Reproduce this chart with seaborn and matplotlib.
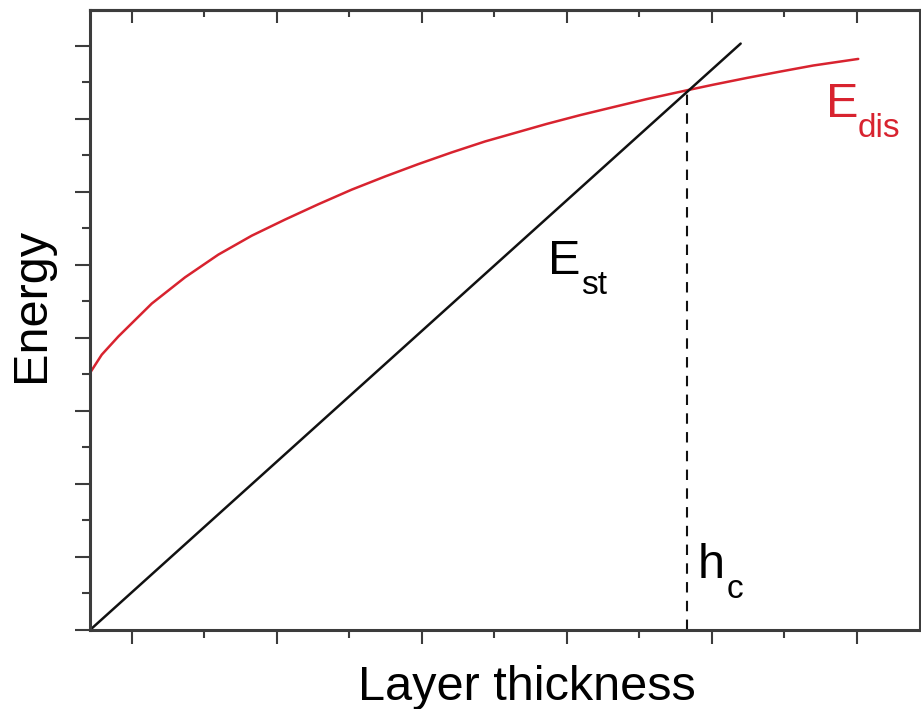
import matplotlib
matplotlib.use("Agg")
import matplotlib.pyplot as plt
from matplotlib.ticker import MultipleLocator, NullFormatter
import pandas as pd
import seaborn as sns

# --- DATA (one major tick = 1 unit) ---
edis_x = [0.712, 0.793, 0.908, 1.138, 1.368, 1.597, 1.828, 2.057, 2.287,
          2.517, 2.747, 2.977, 3.207, 3.437, 3.632, 3.862, 4.092, 4.321,
          4.552, 4.828, 5.011, 5.241, 5.471, 5.701, 6.011]
edis_y = [3.52, 3.77, 4.02, 4.47, 4.83, 5.14, 5.40, 5.62, 5.83,
          6.03, 6.21, 6.38, 6.54, 6.69, 6.80, 6.93, 7.05, 7.16,
          7.27, 7.39, 7.467, 7.559, 7.646, 7.73, 7.82]
est_x = [0.712, 5.20]
est_y = [0.0, 8.03]
hc_x = [4.83, 4.83]
hc_y = [0.0, 7.38]

sns.set_style("ticks")
plt.rcParams['font.family'] = ['Liberation Sans', 'DejaVu Sans']
plt.rcParams['text.color'] = 'black'
plt.rcParams['axes.labelcolor'] = 'black'

RED = '#d8232f'
AX = '#3c3c3c'

fig = plt.figure(figsize=(9.21, 7.09), dpi=100)
ax = fig.add_axes([90 / 921, 1 - 630 / 709, 830 / 921, 620 / 709])

edis = pd.DataFrame({'x': edis_x, 'y': edis_y})
est = pd.DataFrame({'x': est_x, 'y': est_y})
sns.lineplot(data=edis, x='x', y='y', color=RED, lw=1.8, ax=ax)
sns.lineplot(data=est, x='x', y='y', color='#111111', lw=1.8, ax=ax)
ax.plot(hc_x, hc_y, color='#111111', lw=1.5, dashes=(5, 4))

ax.set_xlim(0.712, 6.437)
ax.set_ylim(0, 8.49)

for s in ax.spines.values():
    s.set_color(AX)
    s.set_linewidth(2.2)

ax.xaxis.set_major_locator(MultipleLocator(1))
ax.xaxis.set_minor_locator(MultipleLocator(0.5))
ax.yaxis.set_major_locator(MultipleLocator(1))
ax.yaxis.set_minor_locator(MultipleLocator(0.5))
ax.tick_params(which='both', labelbottom=False, labelleft=False, color=AX,
               width=1.5, direction='out', top=False, right=False)
ax.tick_params(axis='y', which='major', length=10.8)
ax.tick_params(axis='y', which='minor', length=5.5)
ax.tick_params(axis='x', which='major', length=10)
ax.tick_params(axis='x', which='minor', length=5.5)

# top ticks point inwards
top = ax.secondary_xaxis('top')
top.xaxis.set_major_locator(MultipleLocator(1))
top.xaxis.set_minor_locator(MultipleLocator(0.5))
top.xaxis.set_minor_formatter(NullFormatter())
top.tick_params(which='both', direction='in', color=AX, width=1.5, labeltop=False)
top.tick_params(which='major', length=9.4)
top.tick_params(which='minor', length=5)
top.spines['top'].set_color(AX)
top.spines['top'].set_linewidth(2.2)

ax.set_xlabel("Layer thickness", fontsize=35, color='black')
ax.xaxis.label.set_va('baseline')
ax.xaxis.set_label_coords(0.5265, -0.1129)
ax.set_ylabel("Energy", fontsize=35, color='black')
ax.yaxis.label.set_va('center')
ax.yaxis.set_label_coords(-0.0705, 0.524)

# curve labels
ax.text(3.87, 4.877, "E", fontsize=35, va='baseline', ha='left', color='black')
ax.text(4.10, 4.60, "st", fontsize=24, va='baseline', ha='left', color='black')
ax.text(5.79, 7.03, "E", fontsize=35, va='baseline', ha='left', color=RED)
ax.text(6.01, 6.753, "dis", fontsize=24, va='baseline', ha='left', color=RED)
ax.text(4.90, 0.712, "h", fontsize=35, va='baseline', ha='left', color='black')
ax.text(5.10, 0.438, "c", fontsize=24, va='baseline', ha='left', color='black')

fig.savefig("out.png", dpi=100)
